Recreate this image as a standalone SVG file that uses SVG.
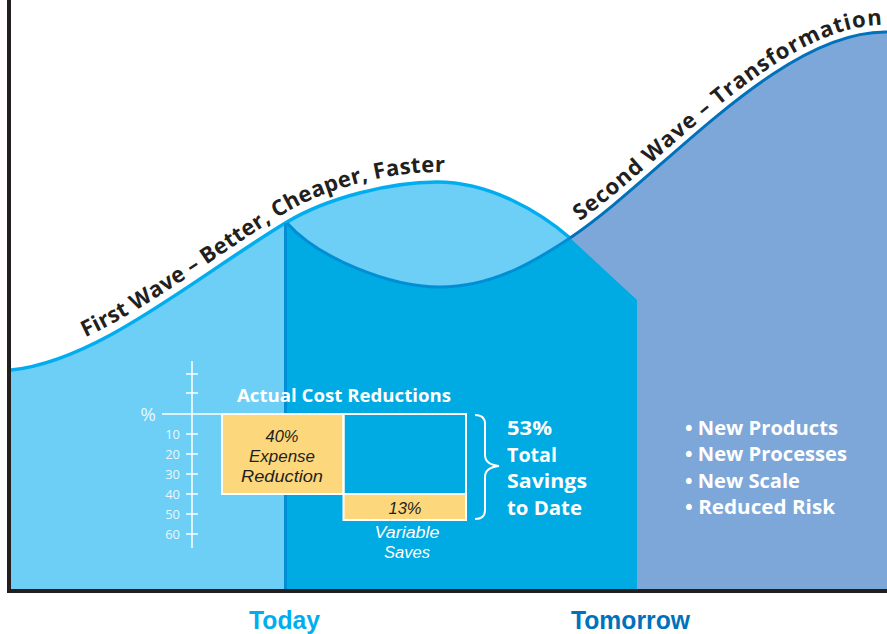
<svg xmlns="http://www.w3.org/2000/svg" width="887" height="634" viewBox="0 0 887 634">
  <style>
    .curve-label{font-family:"Open Sans","Liberation Sans",sans-serif;font-weight:700;font-size:22px;fill:#231f20}
    .white-bold{font-family:"Open Sans","Liberation Sans",sans-serif;font-weight:700;font-size:19px;fill:#ffffff}
    .heading{font-family:"Open Sans","Liberation Sans",sans-serif;font-weight:700;font-size:17px;fill:#ffffff;text-anchor:middle}
    .scale{font-family:"Open Sans","Liberation Sans",sans-serif;font-size:13px;fill:#ffffff;fill-opacity:.85;text-anchor:end}
    .bar-text{font-family:"Liberation Sans",sans-serif;font-style:italic;font-size:17px;fill:#231f20;text-anchor:middle}
    .bar-note{font-family:"Liberation Sans",sans-serif;font-style:italic;font-size:16px;fill:#ffffff;text-anchor:middle}
    .time{font-family:"Liberation Sans",sans-serif;font-weight:700;font-size:26px}
    .tick{stroke:#ffffff;stroke-width:1.5;fill:none}
    .box{stroke:#ffffff;stroke-width:2}
  </style>
  <defs>
    <!-- baselines for the wave captions, sitting just above each curve -->
    <path id="firstWaveText" d="M9,360 C99,351 197,266 287,212 C327,188 390,172 437,172 C490,172 540,202 570,228"/>
    <path id="secondWaveText" d="M570,228 C660,168 780,22 887,25"/>
  </defs>

  <!-- first wave (light blue) -->
  <g id="wave-first">
    <path d="M11,370 C99,361 197,276 287,222 C327,198 390,182 437,182 C490,182 540,212 570,238 L570,589 L11,589 Z" fill="#6dcff6"/>
  </g>

  <!-- second wave (periwinkle) -->
  <g id="wave-second">
    <path d="M570,238 C660,178 780,30 887,32 L887,589 L570,589 Z" fill="#7da7d9"/>
  </g>

  <!-- today column -->
  <g id="column-today">
    <path d="M287,223 C318,258 390,287 440,287 C495,287 540,258 570,238 L637,300 L637,589 L287,589 Z" fill="#00aae2"/>
  </g>

  <!-- curve outlines -->
  <g id="connectors" fill="none">
    <path d="M11,370 C99,361 197,276 287,222 C327,198 390,182 437,182 C490,182 540,212 570,238" stroke="#00aeef" stroke-width="3.5"/>
    <path d="M287,223 C318,258 390,287 440,287 C495,287 540,258 570,238" stroke="#008fd5" stroke-width="3"/>
    <path d="M570,238 C660,178 780,30 887,32" stroke="#0072bc" stroke-width="3"/>
    <line x1="285.5" y1="223" x2="285.5" y2="589" stroke="#008fd5" stroke-width="3"/>
  </g>

  <!-- axes -->
  <g id="axes" stroke="#231f20" stroke-width="4">
    <line x1="9" y1="0" x2="9" y2="593"/>
    <line x1="7" y1="591" x2="887" y2="591"/>
  </g>

  <!-- wave captions -->
  <g id="caption-first">
    <text class="curve-label"><textPath href="#firstWaveText" startOffset="80" textLength="402">First Wave – Better, Cheaper, Faster</textPath></text>
  </g>
  <g id="caption-second">
    <text class="curve-label"><textPath href="#secondWaveText" startOffset="12" textLength="366">Second Wave – Transformation</textPath></text>
  </g>

  <!-- cost reduction chart -->
  <g id="chart">
    <line class="tick" x1="192" y1="361" x2="192" y2="548"/>
    <line class="tick" x1="186" y1="374" x2="198" y2="374"/>
    <line class="tick" x1="186" y1="393" x2="198" y2="393"/>
    <line class="tick" x1="162" y1="414" x2="466" y2="414"/>
    <line class="tick" x1="186" y1="434" x2="198" y2="434"/>
    <line class="tick" x1="186" y1="454" x2="198" y2="454"/>
    <line class="tick" x1="186" y1="474" x2="198" y2="474"/>
    <line class="tick" x1="186" y1="494" x2="198" y2="494"/>
    <line class="tick" x1="186" y1="514" x2="198" y2="514"/>
    <line class="tick" x1="186" y1="534" x2="198" y2="534"/>
    <text x="156" y="421" class="scale" style="font-size:19px">%</text>
    <text x="180" y="439" class="scale">10</text>
    <text x="180" y="459" class="scale">20</text>
    <text x="180" y="479" class="scale">30</text>
    <text x="180" y="499" class="scale">40</text>
    <text x="180" y="519" class="scale">50</text>
    <text x="180" y="539" class="scale">60</text>
    <text x="344" y="402" class="heading" textLength="214" lengthAdjust="spacingAndGlyphs">Actual Cost Reductions</text>
  </g>

  <g id="bar-expense">
    <rect class="box" x="222" y="414" width="121.5" height="80" fill="#fdd77c"/>
    <text x="282" y="442" class="bar-text" textLength="33" lengthAdjust="spacingAndGlyphs">40%</text>
    <text x="282" y="462" class="bar-text" textLength="66" lengthAdjust="spacingAndGlyphs">Expense</text>
    <text x="282" y="482" class="bar-text" textLength="82" lengthAdjust="spacingAndGlyphs">Reduction</text>
  </g>

  <g id="bar-remaining">
    <rect class="box" x="343.5" y="414" width="122.5" height="80" fill="none"/>
  </g>

  <g id="bar-variable">
    <rect class="box" x="343.5" y="494" width="122.5" height="26" fill="#fdd77c"/>
    <text x="405" y="514" class="bar-text" textLength="33" lengthAdjust="spacingAndGlyphs">13%</text>
    <text x="407" y="538" class="bar-note" textLength="65" lengthAdjust="spacingAndGlyphs">Variable</text>
    <text x="407" y="558" class="bar-note" textLength="46" lengthAdjust="spacingAndGlyphs">Saves</text>
  </g>

  <g id="total-savings">
    <path d="M475,415 C482,415 485,418 485,424 L485,455 C485,461 490,465 499,466 C490,467 485,471 485,477 L485,510 C485,516 482,519 475,519" fill="none" stroke="#ffffff" stroke-width="2"/>
    <text x="507" y="435" class="white-bold" textLength="45" lengthAdjust="spacingAndGlyphs">53%</text>
    <text x="507" y="462" class="white-bold" textLength="50" lengthAdjust="spacingAndGlyphs">Total</text>
    <text x="507" y="488" class="white-bold" textLength="80" lengthAdjust="spacingAndGlyphs">Savings</text>
    <text x="507" y="515" class="white-bold" textLength="75" lengthAdjust="spacingAndGlyphs">to Date</text>
  </g>

  <g id="benefits">
    <text x="685" y="435" class="white-bold" textLength="153" lengthAdjust="spacingAndGlyphs">• New Products</text>
    <text x="685" y="461" class="white-bold" textLength="162" lengthAdjust="spacingAndGlyphs">• New Processes</text>
    <text x="685" y="488" class="white-bold" textLength="115" lengthAdjust="spacingAndGlyphs">• New Scale</text>
    <text x="685" y="514" class="white-bold" textLength="150" lengthAdjust="spacingAndGlyphs">• Reduced Risk</text>
  </g>

  <!-- time labels -->
  <g id="label-today">
    <text x="249" y="629" class="time" fill="#00aeef" textLength="71" lengthAdjust="spacingAndGlyphs">Today</text>
  </g>
  <g id="label-tomorrow">
    <text x="571" y="629" class="time" fill="#0072bc" textLength="119" lengthAdjust="spacingAndGlyphs">Tomorrow</text>
  </g>
</svg>
